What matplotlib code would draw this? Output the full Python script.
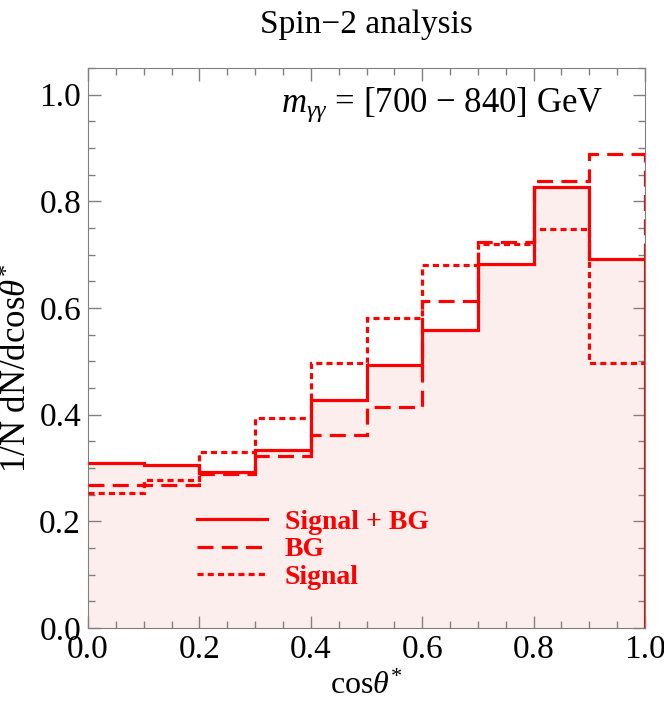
import numpy as np
import matplotlib
matplotlib.use("Agg")
import matplotlib.pyplot as plt
from matplotlib.ticker import MultipleLocator, FormatStrFormatter

plt.rcParams['font.family'] = ['Liberation Serif', 'DejaVu Serif']
plt.rcParams['mathtext.fontset'] = 'custom'
plt.rcParams['mathtext.rm'] = 'Liberation Serif'
plt.rcParams['mathtext.it'] = 'Liberation Serif:italic'

# bin edges in cos(theta*) and normalised distributions
edges = np.linspace(0.0, 1.0, 11)
sig_bg = [0.310, 0.305, 0.292, 0.334, 0.428, 0.494, 0.559, 0.683, 0.826, 0.692]
bg = [0.269, 0.268, 0.289, 0.322, 0.362, 0.415, 0.614, 0.723, 0.838, 0.889]
signal = [0.254, 0.277, 0.330, 0.394, 0.496, 0.581, 0.680, 0.720, 0.749, 0.496]

red = '#ff0000'
lw = 2.3
dashed = (0, (5, 2.6))
dotted = (0, (1.9, 1.3))

fig = plt.figure(figsize=(6.64, 7.07), dpi=100)
ax = fig.add_axes([88 / 664, 1 - 628 / 707, 557 / 664, 560 / 707])

# light fill under signal + BG
ax.stairs(sig_bg, edges, fill=True, color='#fdeeee', baseline=0, zorder=1)

ax.stairs(sig_bg, edges, baseline=None, color=red, lw=lw, zorder=3,
          label='Signal + BG')
ax.stairs(bg, edges, baseline=None, color=red, lw=lw, zorder=3,
          linestyle=dashed, label='BG')
ax.stairs(signal, edges, baseline=None, color=red, lw=lw, zorder=3,
          linestyle=dotted, label='Signal')
# closing edges at cos = 1
ax.vlines(edges[-1], 0, sig_bg[-1], color=red, lw=lw, zorder=3)
ax.vlines(edges[-1], sig_bg[-1], bg[-1], color=red, lw=lw, zorder=3,
          linestyle=dashed)

ax.set_xlim(0, 1)
ax.set_ylim(0, 1.05)
ax.xaxis.set_major_locator(MultipleLocator(0.2))
ax.xaxis.set_minor_locator(MultipleLocator(0.05))
ax.yaxis.set_major_locator(MultipleLocator(0.2))
ax.yaxis.set_minor_locator(MultipleLocator(0.05))
ax.xaxis.set_major_formatter(FormatStrFormatter('%.1f'))
ax.yaxis.set_major_formatter(FormatStrFormatter('%.1f'))
ax.tick_params(which='both', direction='in', top=True, right=True,
               color='#808080', labelsize=24, pad=5)
ax.tick_params(which='major', length=9, width=1)
ax.tick_params(which='minor', length=5, width=1)
for s in ax.spines.values():
    s.set_color('#808080')
    s.set_zorder(2)

ax.set_xlabel(r'cos$\mathit{\theta}^{*}$', fontsize=23)
ax.xaxis.set_label_coords(0.5, -0.079)
ax.set_ylabel(r'1/N dN/dcos$\mathit{\theta}^{*}$', fontsize=25)
ax.yaxis.set_label_coords(-0.097, 0.464)

fig.text(ax.get_position().x0 + ax.get_position().width / 2, 1 - 33 / 707,
         'Spin\u22122 analysis', fontsize=24, ha='center', va='baseline')

ax.text(0.925, 0.921, '$m_{\\gamma\\gamma}$ = [700 \u2212 840] GeV',
        transform=ax.transAxes, ha='right', va='baseline', fontsize=25)

leg = ax.legend(loc='center left', bbox_to_anchor=(0.196, 0.140), frameon=False,
                borderpad=0, borderaxespad=0,
                handlelength=2.5, handletextpad=0.65, labelspacing=0.07,
                prop={'weight': 'bold', 'size': 20})
for t in leg.get_texts():
    t.set_color(red)

fig.savefig('out.png', dpi=100)
